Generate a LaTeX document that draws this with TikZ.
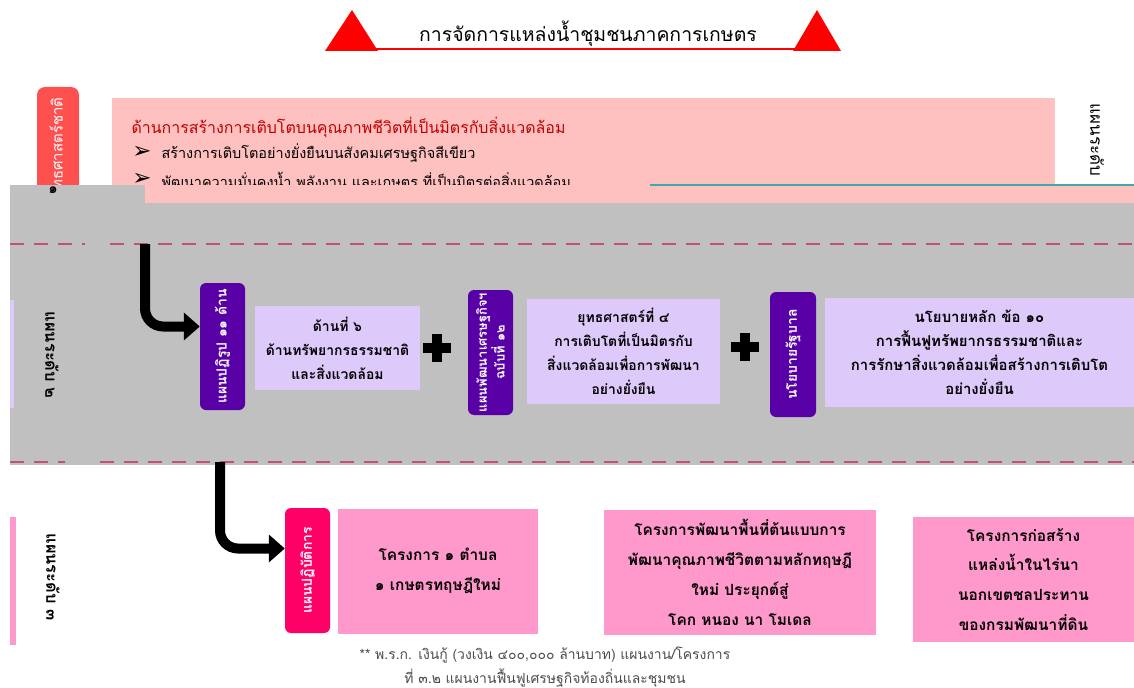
\documentclass[tikz,border=0pt]{standalone}
\usepackage{fontspec}
\setmainfont[Script=Thai]{Loma}
\newfontfamily\symfont{DejaVu Sans}
\usetikzlibrary{arrows.meta, positioning, calc}

\definecolor{titlered}{RGB}{255,0,0}
\definecolor{nationred}{RGB}{255,80,80}
\definecolor{softpink}{RGB}{255,192,192}
\definecolor{headred}{RGB}{192,0,0}
\definecolor{bandgray}{RGB}{192,192,192}
\definecolor{dashpink}{RGB}{192,80,126}
\definecolor{planpurple}{RGB}{88,0,166}
\definecolor{lavender}{RGB}{222,202,250}
\definecolor{actionpink}{RGB}{255,0,102}
\definecolor{projpink}{RGB}{255,153,204}
\definecolor{glitchteal}{RGB}{60,170,170}

\begin{document}
\begin{tikzpicture}[x=1bp, y=-1bp,
    planbox/.style={fill=planpurple, rounded corners=6bp, text=white, rotate=90,
        align=center, inner sep=0pt, font=\bfseries\fontsize{14}{16}\selectfont},
    goalbox/.style={fill=lavender, align=center, inner sep=0pt,
        font=\bfseries\fontsize{14}{24}\selectfont},
    projbox/.style={fill=projpink, align=center, inner sep=0pt,
        font=\bfseries\fontsize{15.5}{30}\selectfont},
    levellabel/.style={rotate=-90, font=\bfseries\fontsize{16.5}{18}\selectfont},
    bigarrow/.style={line width=10bp, rounded corners=18bp,
        -{Triangle[width=27bp, length=16bp]}},
    sepline/.style={dashpink, line width=2.5bp, dash pattern=on 14bp off 10bp}
]
    \useasboundingbox (0,0) rectangle (1134,688);
    \fill[white] (0,0) rectangle (1134,688);

    % Title with the two red triangles
    \fill[titlered] (325,51) -- (352,10) -- (378,51) -- cycle;
    \fill[titlered] (793,51) -- (817,10) -- (841,51) -- cycle;
    \draw[titlered, line width=2bp] (330,49) -- (838,49);
    \node[font=\fontsize{19.5}{24}\selectfont] (title) at (588,34) {การจัดการแหล่งน้ำชุมชนภาคการเกษตร};

    % Level 1 - national strategy
    \fill[nationred, rounded corners=8bp] (37,87) rectangle (79,200);
    \node[rotate=90, anchor=east, text=white, font=\fontsize{15}{18}\selectfont] (nation) at (58,94) {ยุทธศาสตร์ชาติ};
    \fill[softpink] (112,98) rectangle (1055,185);
    \node[anchor=west, text=headred, font=\fontsize{16}{18}\selectfont] (greenhead) at (128,127) {ด้านการสร้างการเติบโตบนคุณภาพชีวิตที่เป็นมิตรกับสิ่งแวดล้อม};
    \node[font=\symfont\fontsize{23}{24}\selectfont] (dotA) at (142,152) {➢};
    \node[anchor=west, font=\fontsize{14.5}{16}\selectfont] (greenA) at (158,153) {สร้างการเติบโตอย่างยั่งยืนบนสังคมเศรษฐกิจสีเขียว};
    \node[font=\symfont\fontsize{23}{24}\selectfont] (dotB) at (142,179) {➢};
    \node[anchor=west, font=\fontsize{14.5}{16}\selectfont] (greenB) at (158,180) {พัฒนาความมั่นคงน้ำ พลังงาน และเกษตร ที่เป็นมิตรต่อสิ่งแวดล้อม};
    \node[levellabel, font=\fontsize{17}{18}\selectfont] (levelA) at (1097,140) {แผนระดับ};

    % Level 2 - grey band
    \fill[softpink] (145,185) rectangle (1134,203);
    \fill[bandgray] (10,203) rectangle (1134,465);
    \fill[bandgray] (10,185) rectangle (145,203);
    \draw[glitchteal, line width=1.2bp] (650,185) -- (1134,185);
    \node[font=\bfseries\fontsize{15}{16}\selectfont] (levelnum) at (53,190) {๑};
    \draw[sepline] (10,244) -- (85,244);
    \draw[sepline] (110,244) -- (1134,244);
    \draw[sepline] (10,462) -- (65,462);
    \draw[sepline] (100,462) -- (1134,462);
    \fill[lavender] (10,300) rectangle (14,408);
    \node[levellabel] (levelB) at (52,355) {แผนระดับ ๒};

    \node[planbox, minimum width=127bp, minimum height=45bp] (reform) at (222.5,346.5) {แผนปฏิรูป ๑๑ ด้าน};
    \node[goalbox, minimum width=165bp, minimum height=84bp] (reformgoal) at (337.5,348) {ด้านที่ ๖\\ด้านทรัพยากรธรรมชาติ\\และสิ่งแวดล้อม};
    \node[planbox, font=\bfseries\fontsize{13}{16}\selectfont, minimum width=125bp, minimum height=45bp] (devplan) at (490.5,352.5) {แผนพัฒนาเศรษฐกิจฯ\\ฉบับที่ ๑๒};
    \node[goalbox, minimum width=193bp, minimum height=105bp] (devgoal) at (623.5,351.5) {ยุทธศาสตร์ที่ ๔\\การเติบโตที่เป็นมิตรกับ\\สิ่งแวดล้อมเพื่อการพัฒนา\\อย่างยั่งยืน};
    \node[planbox, minimum width=125bp, minimum height=46bp] (govpolicy) at (793,354.5) {นโยบายรัฐบาล};
    \node[goalbox, font=\bfseries\fontsize{15}{24}\selectfont, minimum width=309bp, minimum height=109bp] (govgoal) at (979.5,352.5) {นโยบายหลัก ข้อ ๑๐\\การฟื้นฟูทรัพยากรธรรมชาติและ\\การรักษาสิ่งแวดล้อมเพื่อสร้างการเติบโต\\อย่างยั่งยืน};

    % plus signs between the plans
    \foreach \px/\py in {437/348, 745/347} {
        \begin{scope}[shift={(\px,\py)}]
            \fill (-5,-14) rectangle (5,14);
            \fill (-14,-5) rectangle (14,5);
        \end{scope}
    }

    % Level 3 - action plan
    \fill[projpink] (10,517) rectangle (16,645);
    \node[levellabel] (levelC) at (53,577) {แผนระดับ ๓};
    \node[planbox, fill=actionpink, minimum width=125bp, minimum height=45bp] (action) at (307.5,570.5) {แผนปฏิบัติการ};
    \node[projbox, minimum width=200bp, minimum height=125bp] (projA) at (438,571) {โครงการ ๑ ตำบล\\๑ เกษตรทฤษฎีใหม่};
    \node[projbox, minimum width=272bp, minimum height=125bp] (projB) at (740,572.5) {โครงการพัฒนาพื้นที่ต้นแบบการ\\พัฒนาคุณภาพชีวิตตามหลักทฤษฎี\\ใหม่ ประยุกต์สู่\\โคก หนอง นา โมเดล};
    \node[projbox, minimum width=221bp, minimum height=125bp] (projC) at (1023.5,579.5) {โครงการก่อสร้าง\\แหล่งน้ำในไร่นา\\นอกเขตชลประทาน\\ของกรมพัฒนาที่ดิน};
    \node[align=center, text=black!70, font=\fontsize{14}{25}\selectfont] (loannote) at (545,667) {** พ.ร.ก. เงินกู้ (วงเงิน ๔๐๐,๐๐๐ ล้านบาท) แผนงาน/โครงการ\\ที่ ๓.๒ แผนงานฟื้นฟูเศรษฐกิจท้องถิ่นและชุมชน};

    % the two bent arrows
    \coordinate (dropA) at (145,244);
    \coordinate (dropB) at (220,462);
    \draw[bigarrow] (dropA) |- ([yshift=20bp]reform.north);
    \draw[bigarrow] (dropB) |- ([yshift=22bp]action.north);
\end{tikzpicture}
\end{document}
